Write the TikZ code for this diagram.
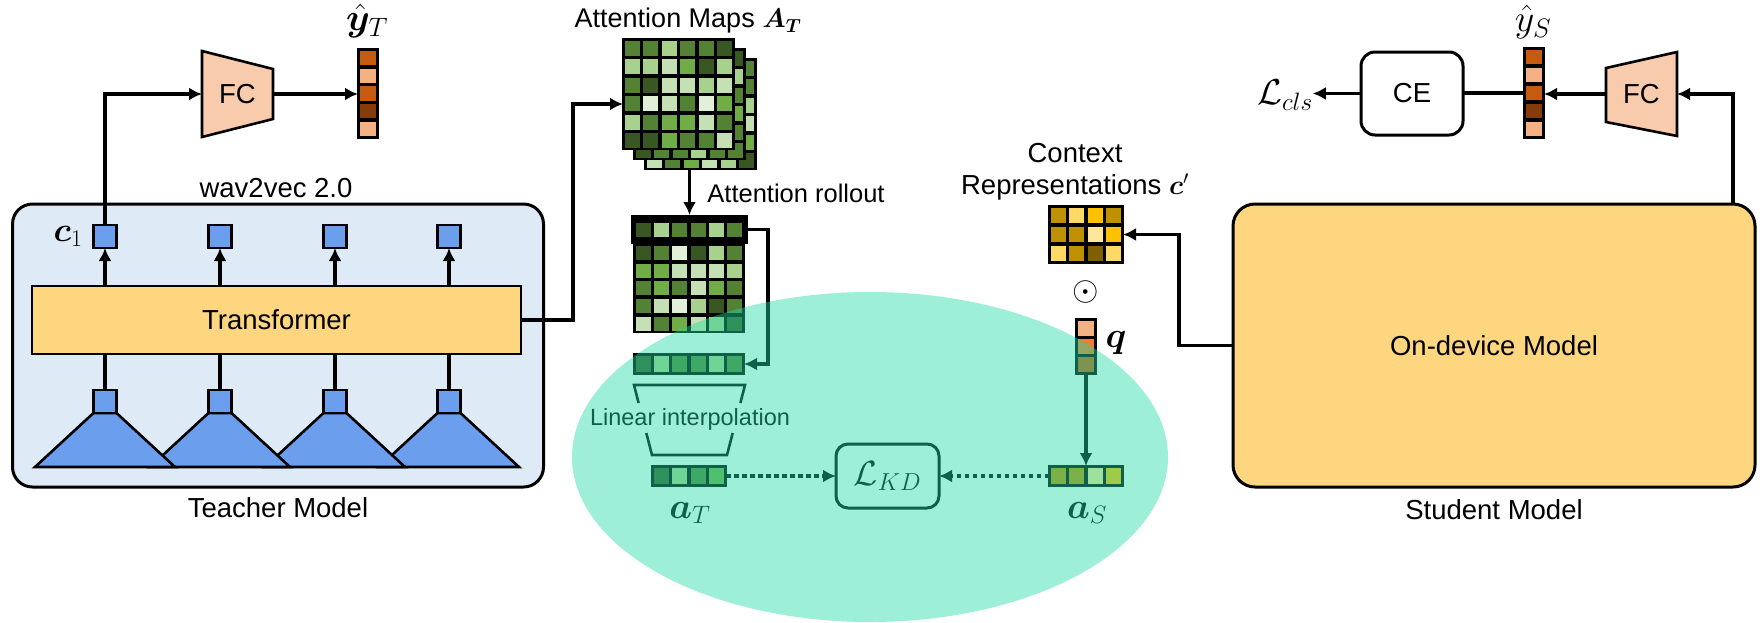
\RequirePackage{fix-cm}
\documentclass[tikz,border=0pt]{standalone}
\usepackage{amsmath}
\usepackage{fontspec}
\setmainfont{Liberation Sans}
\usepackage{bm}
\usetikzlibrary{arrows.meta,calc}

\definecolor{tbg}{RGB}{222,235,247}
\definecolor{tblue}{RGB}{108,158,238}
\definecolor{tyel}{RGB}{253,214,127}
\definecolor{tpeach}{RGB}{248,203,173}
\definecolor{oA}{HTML}{C55A11}
\definecolor{oB}{HTML}{F4B183}
\definecolor{oC}{HTML}{843C0C}
\definecolor{oD}{HTML}{ED7D31}
\definecolor{gA}{HTML}{385723}
\definecolor{gB}{HTML}{548235}
\definecolor{gC}{HTML}{70AD47}
\definecolor{gD}{HTML}{A9D18E}
\definecolor{gE}{HTML}{C5E0B4}
\definecolor{gF}{HTML}{E2F0D9}
\definecolor{yA}{HTML}{BF9000}
\definecolor{yB}{HTML}{FFD966}
\definecolor{yC}{HTML}{FFC000}
\definecolor{yD}{HTML}{FFE699}
\definecolor{yE}{HTML}{7F6000}
\definecolor{kdteal}{RGB}{36,220,164}

% x0, y0 (top-left), pitch x, pitch y, columns, colour list
\newcommand\drawcells[6]{%
  \foreach \cc [count=\ii from 0] in {#6}{%
    \pgfmathtruncatemacro\cx{mod(\ii,#5)}%
    \pgfmathtruncatemacro\cy{div(\ii,#5)}%
    \fill[\cc] ({#1+\cx*#3+1.8},{#2+\cy*#4+1.8}) rectangle ++({#3-3.6},{#4-3.6});%
  }}

\tikzset{
  base/.style={inner sep=0pt, outer sep=0pt},
  lbl/.style={base, font=\fontsize{27.5}{30}\selectfont},
  mlbl/.style={base, font=\fontsize{34}{36}\selectfont},
  bigm/.style={base, font=\fontsize{36}{38}\selectfont},
  ln/.style={line width=3.2pt, draw=black},
  arr/.style={ln, -{Latex[length=13pt,width=13pt]}},
  dotarr/.style={line width=4.5pt, draw=black, dash pattern=on 4.5pt off 3.5pt, -{Latex[length=13pt,width=13pt]}},
  sq/.style={base, draw=black, line width=2.6pt, fill=tblue, minimum width=23pt, minimum height=23pt},
  tri/.style={draw=black, line width=2.6pt, fill=tblue, line join=miter},
  modelbox/.style={base, draw=black, line width=3pt, rounded corners=20pt},
  fcpoly/.style={draw=black, line width=2.6pt, fill=tpeach},
  holder/.style={base, draw=none},
}

\begin{document}
\begin{tikzpicture}[x=1pt,y=-1pt]
\fill[white] (0,0) rectangle (1760,622);
\useasboundingbox (0,0) rectangle (1760,622);

% ---------------- Teacher ----------------
\node[modelbox, fill=tbg, minimum width=531pt, minimum height=283pt] (tbox) at (278,345.5) {};
\node[lbl] (w2v) at (276,188) {wav2vec 2.0};
\node[lbl] (tml) at (278,508) {Teacher Model};
\node[base, draw=black, line width=2.6pt, fill=tyel, minimum width=489pt, minimum height=68pt,
      font=\fontsize{27.5}{30}\selectfont] (tr) at (276.5,320) {Transformer};

\foreach \cx in {449,335,220,105}{
  \draw[tri] (\cx-11.5,413) -- (\cx+11.5,413) -- (\cx+70,467) -- (\cx-70,467) -- cycle;
}
\foreach \cx [count=\k] in {105,220,335,449}{
  \node[sq] (bs\k) at (\cx,401.5) {};
  \node[sq] (ts\k) at (\cx,236.5) {};
}
\foreach \k in {1,...,4}{
  \draw[arr] (ts\k |- tr.north) -- (ts\k.south);
  \draw[ln] (bs\k.north) -- (bs\k |- tr.south);
}
\node[mlbl] (c1l) at (68,236) {$\bm{c}_{1}$};

% teacher FC and output
\draw[fcpoly] (202,51) -- (273,69) -- (273,119) -- (202,137) -- cycle;
\node[holder, minimum width=71pt, minimum height=86pt, font=\fontsize{27.5}{30}\selectfont] (fcT) at (237.5,94) {FC};
\node[holder, minimum width=20pt, minimum height=89pt] (yT) at (368,93.5) {};
\fill[black] (357,48) rectangle (379,139);
\drawcells{358}{49}{20}{17.8}{1}{oA,oB,oA,oC,oB}
\node[base, font=\fontsize{38}{40}\selectfont] (yTl) at (367,21) {$\hat{\bm{y}}_{T}$};
\draw[arr] (ts1.north) |- (fcT.west);
\draw[arr] (fcT.east) -- (fcT.east -| yT.west);

% ---------------- Attention maps ----------------
\node[holder, minimum width=133pt, minimum height=130pt] (am) at (689.5,104) {};
\node[base, font=\fontsize{27}{29}\selectfont] (amt) at (688,21) {Attention Maps $\bm{A}_{\bm{T}}$};
\fill[black] (644,58) rectangle (757,170);
\drawcells{645}{59}{18.5}{18.5}{6}{gB,gB,gD,gE,gC,gB, gC,gB,gD,gB,gD,gB, gB,gD,gB,gC,gB,gD, gD,gB,gC,gB,gD,gE, gB,gC,gB,gD,gC,gC, gE,gB,gC,gE,gD,gA}
\fill[black] (633,48) rectangle (746,160);
\drawcells{634}{49}{18.5}{18.5}{6}{gA,gB,gC,gB,gD,gA, gC,gB,gD,gE,gB,gD, gB,gC,gB,gD,gB,gB, gE,gB,gC,gB,gD,gC, gB,gD,gB,gC,gB,gB, gA,gB,gB,gD,gB,gB}
\fill[black] (622,38) rectangle (735,150);
\drawcells{623}{39}{18.5}{18.5}{6}{gB,gB,gD,gB,gB,gA, gD,gD,gE,gC,gA,gD, gB,gA,gE,gE,gD,gE, gB,gF,gE,gB,gF,gC, gD,gB,gC,gC,gE,gB, gA,gA,gC,gB,gB,gE}
\draw[arr] (tr.east) -- ++(52,0) |- (am.west);

% rollout
\node[holder, minimum width=117pt, minimum height=117pt] (ro) at (689.5,273.5) {};
\node[holder, minimum width=117pt, minimum height=29pt] (rotop) at (689.5,229.5) {};
\fill[black] (631,215) rectangle (748,244);
\drawcells{634}{220.7}{18.33}{17.6}{6}{gA,gD,gB,gB,gD,gB}
\fill[black] (633,244) rectangle (745,333);
\drawcells{634}{244}{18.33}{17.7}{6}{gA,gB,gF,gA,gD,gB, gC,gC,gE,gE,gE,gD, gB,gC,gB,gE,gC,gB, gB,gE,gF,gD,gA,gB, gE,gB,gC,gE,gD,gA}
\draw[arr] (am.south) -- (ro.north);
\node[base, font=\fontsize{25.5}{28}\selectfont] (rol) at (796,193) {Attention rollout};

% pooled vector
\node[holder, minimum width=110pt, minimum height=20pt] (v6) at (689,364) {};
\fill[black] (633,353) rectangle (745,375);
\drawcells{634}{354}{18.33}{20}{6}{gA,gD,gB,gB,gD,gB}
\draw[arr] (rotop.east) -- ++(20,0) |- (v6.east);

% linear interpolation bracket
\draw[line width=2.6pt] (638.6,403) -- (634,385) -- (745,385) -- (740.4,403);
\draw[line width=2.6pt] (646.3,433) -- (652,455) -- (727,455) -- (732.7,433);
\node[base, font=\fontsize{23.5}{25}\selectfont] (lin) at (690,419) {Linear interpolation};

% a_T
\node[holder, minimum width=74pt, minimum height=20pt] (aT) at (689,476) {};
\fill[black] (651,465) rectangle (727,487);
\drawcells{652}{466}{18.5}{20}{4}{gA,gD,gB,gC}
\node[bigm] (aTl) at (690,513) {$\bm{a}_{T}$};

% L_KD
\node[base, draw=black, line width=3pt, rounded corners=12pt, minimum width=103pt, minimum height=64pt,
      font=\fontsize{35}{37}\selectfont] (lkd) at (887.5,476) {$\mathcal{L}_{KD}$};

% a_S
\node[holder, minimum width=74pt, minimum height=20pt] (aS) at (1086,476) {};
\fill[black] (1048,465) rectangle (1124,487);
\drawcells{1049}{466}{18.5}{20}{4}{yA,yA,yD,yC}
\node[bigm] (aSl) at (1087,513) {$\bm{a}_{S}$};
\draw[dotarr] (aT.east) -- (lkd.west);
\draw[dotarr] (aS.west) -- (lkd.east);

% q
\node[holder, minimum width=20pt, minimum height=55pt] (q) at (1086,346.5) {};
\fill[black] (1075,318) rectangle (1097,375);
\drawcells{1076}{319}{20}{18.33}{1}{oB,oD,oA}
\node[base, font=\fontsize{36}{38}\selectfont] (ql) at (1116,343) {$\bm{q}$};
\draw[arr] (q.south) -- (aS.north);
\node[base, font=\fontsize{34}{36}\selectfont] (odot) at (1086,292) {$\odot$};

% context representations
\node[lbl] (ctxa) at (1075,153) {Context};
\node[lbl] (ctxb) at (1075,187) {Representations $\bm{c}'$};
\node[holder, minimum width=74pt, minimum height=57pt] (cp) at (1086,234.5) {};
\fill[black] (1048,205) rectangle (1124,264);
\drawcells{1049}{206}{18.5}{19}{4}{yA,yB,yC,yA, yA,yA,yD,yC, yB,yA,yE,yB}

% ---------------- Student ----------------
\node[modelbox, fill=tyel, rounded corners=22pt, minimum width=522pt, minimum height=283pt,
      font=\fontsize{27.5}{30}\selectfont] (od) at (1494,345.5) {On-device Model};
\node[lbl] (sml) at (1494,510) {Student Model};
\draw[arr] (od.west) -- ++(-54,0) |- (cp.east);

\draw[fcpoly] (1606,68) -- (1677,52) -- (1677,136) -- (1606,122) -- cycle;
\node[holder, minimum width=71pt, minimum height=84pt, font=\fontsize{27.5}{30}\selectfont] (fcS) at (1641.5,94) {FC};
\draw[arr] ([xshift=-22pt]od.north east) |- (fcS.east);

\node[holder, minimum width=20pt, minimum height=90pt] (yS) at (1534,93) {};
\fill[black] (1523,47) rectangle (1545,139);
\drawcells{1524}{48}{20}{18}{1}{oA,oB,oA,oC,oB}
\node[base, font=\fontsize{38}{40}\selectfont] (ySl) at (1533,22) {$\hat{y}_{S}$};
\draw[arr] (fcS.west) -- (fcS.west -| yS.east);

\node[base, draw=black, line width=3pt, fill=white, rounded corners=14pt, minimum width=102pt, minimum height=83pt,
      font=\fontsize{27.5}{30}\selectfont] (ce) at (1412,93.5) {CE};
\draw[ln] (yS.west) -- (yS.west -| ce.east);
\node[base, font=\fontsize{36}{38}\selectfont] (lcls) at (1285,95) {$\mathcal{L}_{cls}$};
\draw[arr] (ce.west) -- (ce.west -| lcls.east);

% ---------------- KD region overlay ----------------
\fill[kdteal, fill opacity=0.44] (870,457) ellipse [x radius=298, y radius=165];
\end{tikzpicture}
\end{document}
